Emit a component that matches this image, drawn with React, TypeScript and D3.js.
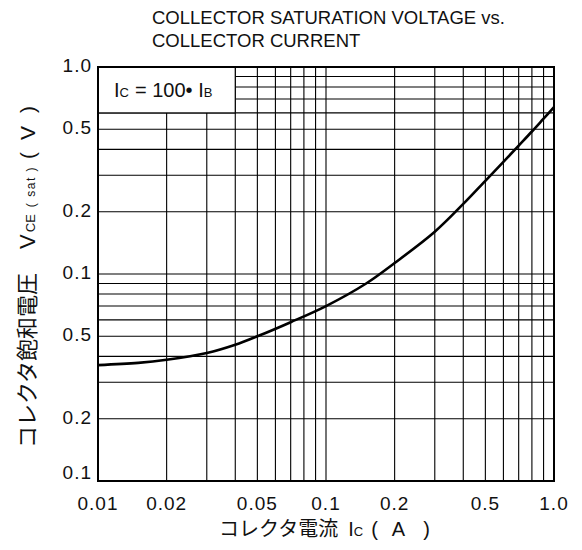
import React from "react";
import * as d3 from "d3";

const W = 582;
const H = 550;

// Data
const currentA = [0.01, 0.015, 0.02, 0.03, 0.04, 0.05, 0.07, 0.1, 0.15, 0.2, 0.3, 0.4, 0.5, 0.6, 0.7, 0.8, 0.9, 1.0];
const vceSat = [0.0363, 0.0372, 0.0385, 0.0415, 0.0455, 0.0500, 0.0585, 0.070, 0.090, 0.113, 0.160, 0.218, 0.282, 0.348, 0.417, 0.488, 0.563, 0.640];

const xTickValues = [0.01, 0.02, 0.05, 0.1, 0.2, 0.5, 1.0];
const xTickLabels = ["0.01", "0.02", "0.05", "0.1", "0.2", "0.5", "1.0"];
const yTickValues = [1.0, 0.5, 0.2, 0.1, 0.05, 0.02, 0.01];
const yTickLabels = ["1.0", "0.5", "0.2", "0.1", "0.5", "0.2", "0.1"];

const xGrid = [0.02, 0.03, 0.04, 0.05, 0.06, 0.07, 0.08, 0.09, 0.1, 0.2, 0.3, 0.4, 0.5, 0.6, 0.7, 0.8, 0.9];
const yGrid = [0.02, 0.03, 0.04, 0.05, 0.06, 0.07, 0.08, 0.09, 0.1, 0.2, 0.3, 0.4, 0.5, 0.6, 0.7, 0.8, 0.9];

const LEFT = 98;
const RIGHT = 554;
const TOP = 67;
const BOTTOM = 481;

export default function App() {
  const x = d3.scaleLog().domain([0.01, 1]).range([LEFT, RIGHT]);
  const y = d3.scaleLog().domain([0.01, 1]).range([BOTTOM, TOP]);
  const pts: [number, number][] = currentA.map((c, i) => [c, vceSat[i]]);
  const line = d3
    .line<[number, number]>()
    .x((d) => x(d[0]))
    .y((d) => y(d[1]))
    .curve(d3.curveCatmullRom.alpha(0.5));

  const latin = "'Liberation Sans', Arial, sans-serif";
  const cjk = "'Noto Sans CJK JP', 'Liberation Sans', sans-serif";
  const legX1 = x(0.04);
  const legY2 = y(0.6);

  return (
    <svg width={W} height={H} style={{ position: "absolute", left: 0, top: 0 }}>
      <rect x={0} y={0} width={W} height={H} fill="#fff" />
      <text x={152} y={24} fontFamily={latin} fontSize={18.5} fill="#111">
        COLLECTOR SATURATION VOLTAGE vs.
      </text>
      <text x={152} y={47} fontFamily={latin} fontSize={18.5} fill="#111">
        COLLECTOR CURRENT
      </text>

      {xGrid.map((g) => (
        <line key={"x" + g} x1={x(g)} x2={x(g)} y1={TOP} y2={BOTTOM} stroke="#000" strokeWidth={1.1} />
      ))}
      {yGrid.map((g) => (
        <line key={"y" + g} x1={LEFT} x2={RIGHT} y1={y(g)} y2={y(g)} stroke="#000" strokeWidth={1.1} />
      ))}

      {/* legend box */}
      <rect x={LEFT} y={TOP} width={legX1 - LEFT} height={legY2 - TOP} fill="#fff" stroke="#000" strokeWidth={1.2} />
      <text x={114} y={97} fontFamily={latin} fontSize={20} fill="#111">
        <tspan>I</tspan>
        <tspan fontSize={13} letterSpacing={0.5}>C</tspan>
        <tspan> = 100• I</tspan>
        <tspan fontSize={13}>B</tspan>
      </text>

      <path d={line(pts) || ""} fill="none" stroke="#000" strokeWidth={2.6} />

      <rect x={LEFT} y={TOP} width={RIGHT - LEFT} height={BOTTOM - TOP} fill="none" stroke="#000" strokeWidth={2} />

      {yTickValues.map((v, i) => (
        <text
          key={"yt" + i}
          x={92}
          y={Math.min(y(v) + 5, BOTTOM - 2)}
          textAnchor="end"
          fontFamily={latin}
          fontSize={19}
          letterSpacing={1}
          fill="#111"
        >
          {yTickLabels[i]}
        </text>
      ))}
      {xTickValues.map((v, i) => (
        <text
          key={"xt" + i}
          x={x(v)}
          y={510}
          textAnchor="middle"
          fontFamily={latin}
          fontSize={19}
          letterSpacing={1}
          fill="#111"
        >
          {xTickLabels[i]}
        </text>
      ))}

      <text x={219} y={536} fontFamily={cjk} fontSize={20} fill="#111">
        <tspan>コレクタ電流</tspan>
        <tspan dx={10} fontFamily={latin}>I</tspan>
        <tspan fontFamily={latin} fontSize={13}>C</tspan>
        <tspan dx={8} fontFamily={latin}>(</tspan>
        <tspan dx={14} fontFamily={latin}>A</tspan>
        <tspan dx={18} fontFamily={latin}>)</tspan>
      </text>

      <text transform={`translate(35, 448) rotate(-90)`} fontFamily={cjk} fontSize={22} fill="#111">
        <tspan>コレクタ飽和電圧</tspan>
        <tspan dx={24} fontFamily={latin} fontSize={22} letterSpacing={2}>V</tspan>
        <tspan fontFamily={latin} fontSize={13}>CE</tspan>
        <tspan dx={7} fontFamily={latin} fontSize={12} letterSpacing={1.5}>( sat )</tspan>
        <tspan dx={7} fontFamily={latin} fontSize={21}>(</tspan>
        <tspan dx={12} fontFamily={latin} fontSize={21}>V</tspan>
        <tspan dx={13} fontFamily={latin} fontSize={21}>)</tspan>
      </text>
    </svg>
  );
}
